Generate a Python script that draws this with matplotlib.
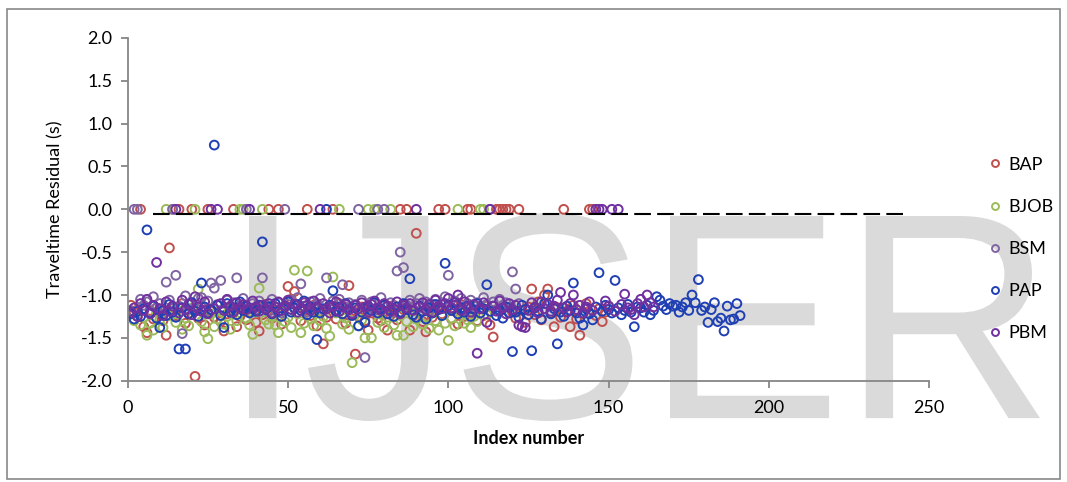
import matplotlib
matplotlib.use("Agg")
import matplotlib.pyplot as plt
import numpy as np
from matplotlib.lines import Line2D
from matplotlib.patches import Rectangle, PathPatch
from matplotlib.textpath import TextPath
from matplotlib.font_manager import FontProperties
from matplotlib.transforms import Affine2D

plt.rcParams["font.family"] = ["Lato", "DejaVu Sans"]
plt.rcParams["axes.unicode_minus"] = False

# Traveltime residuals (s), one value per index number 1..N
bap = [
    -1.12, -1.20, -1.25, 0.00, -1.37, -1.44, -1.18, -1.28, -1.15, -1.22,
    -1.30, -1.47, -0.45, -1.16, -1.24, 0.00, -1.10, -1.33, -1.21, 0.00,
    -1.95, -1.27, -1.14, -1.35, 0.00, -1.19, -1.26, -1.12, -1.31, -1.42,
    -1.22, -1.17, 0.00, -1.37, -1.25, -1.13, -1.29, -1.20, -1.16, -1.32,
    -1.42, -1.23, -1.11, 0.00, -1.27, -1.18, 0.00, -1.34, -1.14, -0.90,
    -1.05, -0.96, -1.21, -1.30, -1.17, 0.00, -1.24, -1.12, -1.36, -1.19,
    -1.57, -1.26, -1.15, 0.00, -1.28, -1.10, -1.22, -1.33, -0.89, -1.18,
    -1.69, -1.25, -1.14, -1.30, -1.41, -1.21, -1.16, -1.27, -1.30, -1.19,
    -1.41, -1.23, -1.12, -1.29, 0.00, -1.17, 0.00, -1.41, -1.24, -0.28,
    -1.20, -1.31, -1.43, -1.15, -1.26, -1.18, 0.00, -1.22, 0.00, -1.13,
    -1.28, -1.19, -1.34, -1.11, -1.25, 0.00, 0.00, -1.21, -1.30, -1.16,
    -1.24, -1.13, -1.35, -1.49, 0.00, 0.00, 0.00, 0.00, 0.00, -1.20,
    -1.27, 0.00, -1.18, -1.32, -1.14, -0.93, -1.23, -1.08, -1.29, -1.00,
    -0.93, -1.21, -1.37, -1.15, -1.26, 0.00, -1.19, -1.37, -1.12, -1.28,
    -1.47, -1.22, -1.10, 0.00, 0.00, -1.24, -1.16, -1.31, -1.20, -1.13,
]
bjob = [
    -1.22, -1.30, -1.18, -1.35, -1.26, -1.47, -1.33, -1.41, -1.20, -1.29,
    -1.38, 0.00, -1.24, 0.00, -1.32, -1.19, -1.40, -1.27, -1.36, -1.15,
    0.00, -0.93, -1.31, -1.43, -1.51, -1.22, -1.37, -1.28, -1.18, -1.34,
    -1.25, -1.40, -1.21, -1.30, 0.00, 0.00, -1.27, -1.35, -1.46, -1.20,
    -0.92, 0.00, -1.29, -1.34, -1.24, -1.35, -1.44, -1.19, -1.31, -1.26,
    -1.38, -0.71, -1.22, -1.44, -1.33, -0.72, -1.28, -1.36, -1.17, -1.30,
    -1.25, -1.39, -1.48, -0.79, -1.21, 0.00, -1.34, -1.27, -1.40, -1.79,
    -1.23, -1.36, -1.29, -1.50, 0.00, -1.50, 0.00, -1.32, -1.20, -1.38,
    -1.26, 0.00, -1.35, -1.47, -1.24, -1.47, -1.31, -1.19, -1.37, -1.28,
    -1.22, -1.34, -1.26, -1.39, -1.18, -1.30, -1.41, -1.24, -1.33, -1.53,
    -1.27, -1.36, 0.00, -1.21, -1.33, -1.29, -1.38, -1.25, -1.31, 0.00,
    0.00, -1.23,
]
bsm = [
    -1.18, 0.00, 0.00, -1.05, -1.12, -1.08, -1.20, -1.02, -1.15, -1.10,
    -1.22, -0.85, -1.06, 0.00, -0.77, -1.13, -1.45, -1.01, -1.17, -1.09,
    -1.14, -1.04, -1.03, -1.19, -1.07, -0.86, -0.92, -1.11, -0.83, -1.16,
    -1.06, -1.20, -1.09, -0.80, -1.13, -1.04, 0.00, -1.15, -1.10, -1.18,
    -1.07, -0.80, -1.12, -1.19, -1.05, -1.14, -1.09, -1.21, 0.00, -1.11,
    -1.06, -1.16, -1.03, -0.87, -1.13, -1.20, -1.08, -1.15, -1.10, -1.04,
    -1.17, -0.80, -1.12, -1.07, -1.19, -1.05, -0.88, -1.14, -1.09, -1.21,
    -1.11, 0.00, -1.06, -1.73, -1.15, -1.08, -1.18, 0.00, -1.03, 0.00,
    -1.13, -1.09, -1.20, -0.72, -0.50, -0.68, -1.12, -1.06, -1.17, -1.10,
    -1.04, -1.15, -1.08, -1.19, -1.11, -1.05, -1.14, -1.09, -1.02, -0.77,
    -1.16, -1.07, -1.12, -1.04, -1.18, -1.10, -1.06, -1.13, -1.09, -1.15,
    -1.03, -1.11, 0.00, -1.08, -1.17, -1.05, -1.12, -1.09, -1.14, -0.73,
    -0.93, -1.10,
]
pap = [
    -1.22, -1.28, -1.19, -1.25, -1.16, -0.24, -1.21, -1.13, -1.27, -1.38,
    -1.18, -1.24, -1.11, -1.20, -1.26, -1.63, -1.15, -1.63, -1.22, -1.09,
    -1.19, -1.25, -0.86, -1.14, -1.21, -1.17, 0.75, -1.12, -1.24, -1.38,
    -1.10, -1.20, -1.15, -1.23, -1.08, -1.18, -1.13, -1.21, -1.16, -1.19,
    -1.12, -0.38, -1.17, -1.14, -1.22, -1.10, -1.19, -1.25, -1.13, -1.08,
    -1.20, -1.15, -1.11, -1.18, -1.07, -1.23, -1.14, -1.20, -1.52, -1.21,
    -1.16, 0.00, -1.12, -0.95, -1.19, -1.14, -1.22, -1.10, -1.17, -1.24,
    -1.15, -1.36, -1.20, -1.32, -1.13, -1.18, -1.09, -1.21, -1.16, -1.12,
    -1.22, -1.18, -1.25, -1.14, -1.20, -1.10, -1.17, -0.81, -1.23, -1.26,
    -1.13, -1.19, -1.28, -1.15, -1.21, -1.11, -1.17, -1.24, -0.63, -1.12,
    -1.18, -1.09, -1.22, -1.15, -1.20, -1.13, -1.25, -1.17, -1.10, -1.21,
    -1.16, -0.88, -1.19, -1.13, -1.24, -1.18, -1.27, -1.14, -1.21, -1.66,
    -1.20, -1.26, -1.12, -1.17, -1.23, -1.65, -1.15, -1.19, -1.28, -1.10,
    -1.00, -1.22, -1.16, -1.57, -1.20, -1.25, -1.13, -1.18, -0.86, -1.21,
    -1.27, -1.35, -1.16, -1.22, -1.29, -1.14, -0.74, -1.19, -1.12, -1.17,
    -1.21, -0.83, -1.15, -1.23, -1.18, -1.11, -1.20, -1.37, -1.14, -1.15,
    -1.20, -1.12, -1.23, -1.18, -1.02, -1.06, -1.13, -1.17, -1.10, -1.13,
    -1.12, -1.20, -1.14, -1.09, -1.18, -1.00, -1.09, -0.82, -1.18, -1.14,
    -1.32, -1.17, -1.09, -1.31, -1.27, -1.42, -1.13, -1.29, -1.28, -1.10,
    -1.24,
]
pbm = [
    -1.20, -1.15, -1.25, -1.10, -1.18, -1.05, -1.22, -1.12, -0.62, -1.16,
    -1.24, -1.08, -1.19, -1.13, 0.00, -1.21, -1.06, -1.17, -1.11, -1.23,
    -1.02, -1.14, -1.19, -1.08, -1.22, 0.00, -1.16, 0.00, -1.10, -1.18,
    -1.05, -1.13, -1.20, -1.09, -1.15, -1.11, -1.17, 0.00, -1.07, -1.14,
    -1.19, -1.12, -1.16, -1.10, -1.21, -1.14, -1.08, -1.18, -1.13, -1.06,
    -1.17, -1.11, -1.20, -1.15, -1.09, -1.12, -1.18, -1.07, -1.14, 0.00,
    -1.10, -1.16, -1.21, -1.13, -1.08, -1.19, -1.14, -1.11, -1.17, -1.22,
    -1.12, -1.16, -1.09, -1.14, -1.20, -1.11, -1.07, -1.15, -1.18, -1.10,
    -1.13, -1.19, -1.16, -1.08, -1.22, -1.12, -1.15, -1.10, -1.18, 0.00,
    -1.14, -1.09, -1.17, -1.11, -1.20, -1.06, -1.13, -1.16, -1.10, -1.04,
    -1.15, -1.12, -1.00, -1.18, -1.08, -1.14, -1.20, -1.11, -1.68, -1.16,
    -1.09, -1.32, 0.00, -1.13, -1.19, -1.07, -1.15, -1.22, -1.10, -1.17,
    -1.12, -1.35, -1.37, -1.38, -1.18, -1.09, -1.14, -1.21, -1.08, -1.16,
    -1.11, -1.19, -1.13, -1.06, -0.97, -1.15, -1.20, -1.10, -1.00, -1.17,
    -1.12, -1.21, -1.14, -1.08, -1.18, 0.00, 0.00, 0.00, -1.07, -1.13,
    0.00, -1.19, 0.00, -1.11, -0.99, -1.15, -1.17, -1.23, -1.10, -1.05,
    -1.14, -1.00, -1.09, -1.14,
]

names = ["BAP", "BJOB", "BSM", "PAP", "PBM"]
colors = ["#C0504D", "#9BBB59", "#8064A2", "#1F3FB4", "#7030A0"]
series = [bap, bjob, bsm, pap, pbm]

ref_x = [8, 243]
ref_y = [-0.06, -0.06]

W, H = 1067, 482
fig = plt.figure(figsize=(W / 100, H / 100), dpi=100)
ax = fig.add_axes([0.1197, 0.2102, 0.7512, 0.711])

# watermark, fitted into its pixel box (left, top, right, bottom)
wm_box = (249, 213, 1040, 421)
tp = TextPath((0, 0), "IJSER", size=1,
              prop=FontProperties(family="Liberation Sans"))
ext = tp.get_extents()
sx = (wm_box[2] - wm_box[0]) / ext.width / W
sy = (wm_box[3] - wm_box[1]) / ext.height / H
tr = (Affine2D().translate(-ext.x0, -ext.y0).scale(sx, sy)
      .translate(wm_box[0] / W, 1 - wm_box[3] / H))
wm = PathPatch(tr.transform_path(tp), transform=fig.transFigure,
               facecolor="#DADADA", edgecolor="none", zorder=0.5,
               clip_on=False)
ax.add_artist(wm)

for vals, name, c in zip(series, names, colors):
    x = np.arange(1, len(vals) + 1)
    ax.scatter(x, vals, s=40, facecolors="none", edgecolors=c,
               linewidths=1.4, label=name, zorder=2)

ax.plot(ref_x, ref_y, color="black", lw=1.5, dashes=(8, 3), zorder=3)

ax.set_xlim(0, 250)
ax.set_ylim(-2, 2)
ax.set_xticks(np.arange(0, 251, 50))
ax.set_yticks(np.arange(-2, 2.01, 0.5))
ax.set_yticklabels([f"{v:.1f}" for v in np.arange(-2, 2.01, 0.5)])
for s in ["top", "right"]:
    ax.spines[s].set_visible(False)
for s in ["left", "bottom"]:
    ax.spines[s].set_color("#868686")
    ax.spines[s].set_linewidth(1.3)
ax.tick_params(direction="out", length=5, width=1.3, color="#868686",
               labelsize=13)
ax.tick_params(axis="x", pad=9)
ax.tick_params(axis="y", pad=6)
ax.set_ylabel("Traveltime Residual (s)", fontsize=13, labelpad=12)
ax.set_xlabel("Index number", fontsize=13, fontweight="bold", labelpad=10)

handles = [Line2D([], [], ls="none", marker="o", markersize=5,
                  markerfacecolor="none", markeredgecolor=c,
                  markeredgewidth=1.4) for c in colors]
fig.legend(handles, names, loc="center left",
           bbox_to_anchor=(972 / W, 1 - 249 / H), frameon=False,
           fontsize=13, labelspacing=1.45, handlelength=0.8,
           handletextpad=0.3)

fig.add_artist(Rectangle((7 / W, 3 / H), 1053 / W, 470 / H,
                         transform=fig.transFigure, fill=False,
                         edgecolor="#898989", lw=1.2))

fig.savefig("out.png", dpi=100)
